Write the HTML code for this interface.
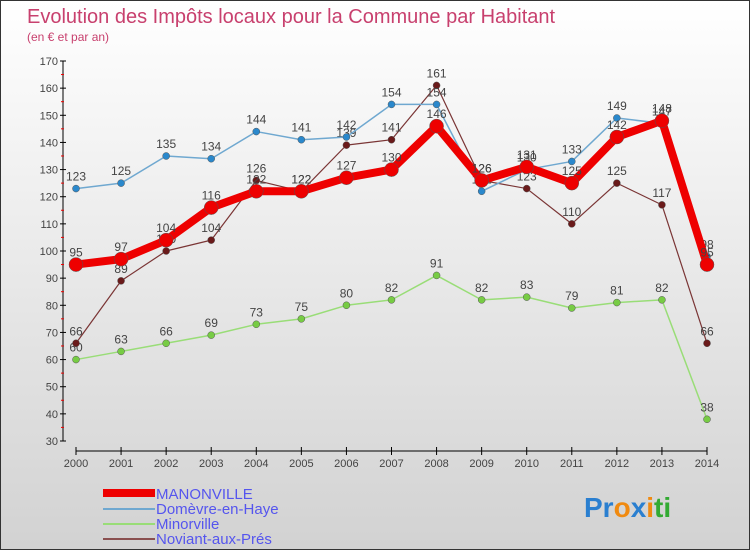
<!DOCTYPE html>
<html><head><meta charset="utf-8"><style>
body{margin:0}
#wrap{width:750px;height:550px;position:relative;overflow:hidden;background:linear-gradient(#ffffff,#d2d2d2);border:1px solid #333;box-sizing:border-box;font-family:"Liberation Sans",sans-serif}
</style></head><body>
<div id="wrap">
<svg id="svg" width="750" height="550" style="position:absolute;left:0;top:0">
<text x="26" y="22" font-size="20" fill="#c8406e">Evolution des Impôts locaux pour la Commune par Habitant</text>
<text x="26" y="40" font-size="12" fill="#c8406e">(en € et par an)</text>
<g id="axes"></g><g id="series"></g>
<g font-size="15" fill="#5555ee">
<rect x="102" y="488" width="52" height="8" fill="#e00"/>
<text x="155" y="498">MANONVILLE</text>
<rect x="102" y="507" width="52" height="2" fill="#6fa8d0"/>
<text x="155" y="513">Domèvre-en-Haye</text>
<rect x="102" y="522" width="52" height="2" fill="#99dd77"/>
<text x="155" y="528">Minorville</text>
<rect x="102" y="537" width="52" height="2" fill="#8a5050"/>
<text x="155" y="543">Noviant-aux-Prés</text>
</g>
<text x="583" y="516" font-size="28" font-weight="bold"><tspan fill="#2a7fd0">Pr</tspan><tspan fill="#f08a10">o</tspan><tspan fill="#2a7fd0">x</tspan><tspan fill="#f08a10">i</tspan><tspan fill="#33aa33">ti</tspan></text>
</svg></div>
<script>
const years=[2000,2001,2002,2003,2004,2005,2006,2007,2008,2009,2010,2011,2012,2013,2014];
const yTicks=[30,40,50,60,70,80,90,100,110,120,130,140,150,160,170];
const manonville=[95,97,104,116,122,122,127,130,146,126,131,125,142,148,95];
const domevre=[123,125,135,134,144,141,142,154,154,122,130,133,149,147,98];
const minorville=[60,63,66,69,73,75,80,82,91,82,83,79,81,82,38];
const noviant=[66,89,100,104,126,122,139,141,161,126,123,110,125,117,66];
const NS='http://www.w3.org/2000/svg';
const xs=i=>75+i*(706-75)/14;
const ys=v=>440-(v-30)*380/140;
function mk(tag,attrs,parent){const e=document.createElementNS(NS,tag);for(const k in attrs)e.setAttribute(k,attrs[k]);parent.appendChild(e);return e;}
const ax=document.getElementById('axes');
let yl=mk('line',{x1:62,y1:60,x2:62,y2:440,stroke:'#000'},ax);


let xl=mk('line',{x1:75,y1:450,x2:706,y2:450,stroke:'#000'},ax);


yTicks.forEach(v=>{const y=ys(v);
mk('line',{x1:59,y1:y,x2:65,y2:y,stroke:'#000'},ax);
if(v<170)mk('line',{x1:60,y1:y-13.6,x2:63,y2:y-13.6,stroke:'#e00'},ax);
const t=mk('text',{x:57,y:y+4,'text-anchor':'end','font-size':11,fill:'#444'},ax);t.textContent=v;

});
years.forEach((yr,i)=>{const x=xs(i);
mk('line',{x1:x,y1:446,x2:x,y2:454,stroke:'#000'},ax);
const t=mk('text',{x:x,y:466,'text-anchor':'middle','font-size':11,fill:'#444'},ax);t.textContent=yr;

});
const sg=document.getElementById('series');
function draw(name,data,color,w,r,dot){
const g=mk('g',{},sg);


const pl=mk('polyline',{points:data.map((v,i)=>xs(i)+','+ys(v)).join(' '),fill:'none',stroke:color,'stroke-width':w,'stroke-linejoin':'round'},g);


data.forEach((v,i)=>{const c=mk('circle',{cx:xs(i),cy:ys(v),r:r,fill:dot,stroke:'#555','stroke-width':0.5},g);


const t=mk('text',{x:xs(i),y:ys(v)-8,'text-anchor':'middle','font-size':12,fill:'#444'},g);t.textContent=v;

});}
draw('minorville',minorville,'#99dd77',1.5,3.5,'#77cc44');
draw('noviant',noviant,'#7a3535',1.2,3.5,'#6a1a1a');
draw('domevre',domevre,'#6fa8d0',1.5,3.5,'#2a88cc');
draw('manonville',manonville,'#ee0000',8,7,'#ee0000');
</script>
</body></html>
